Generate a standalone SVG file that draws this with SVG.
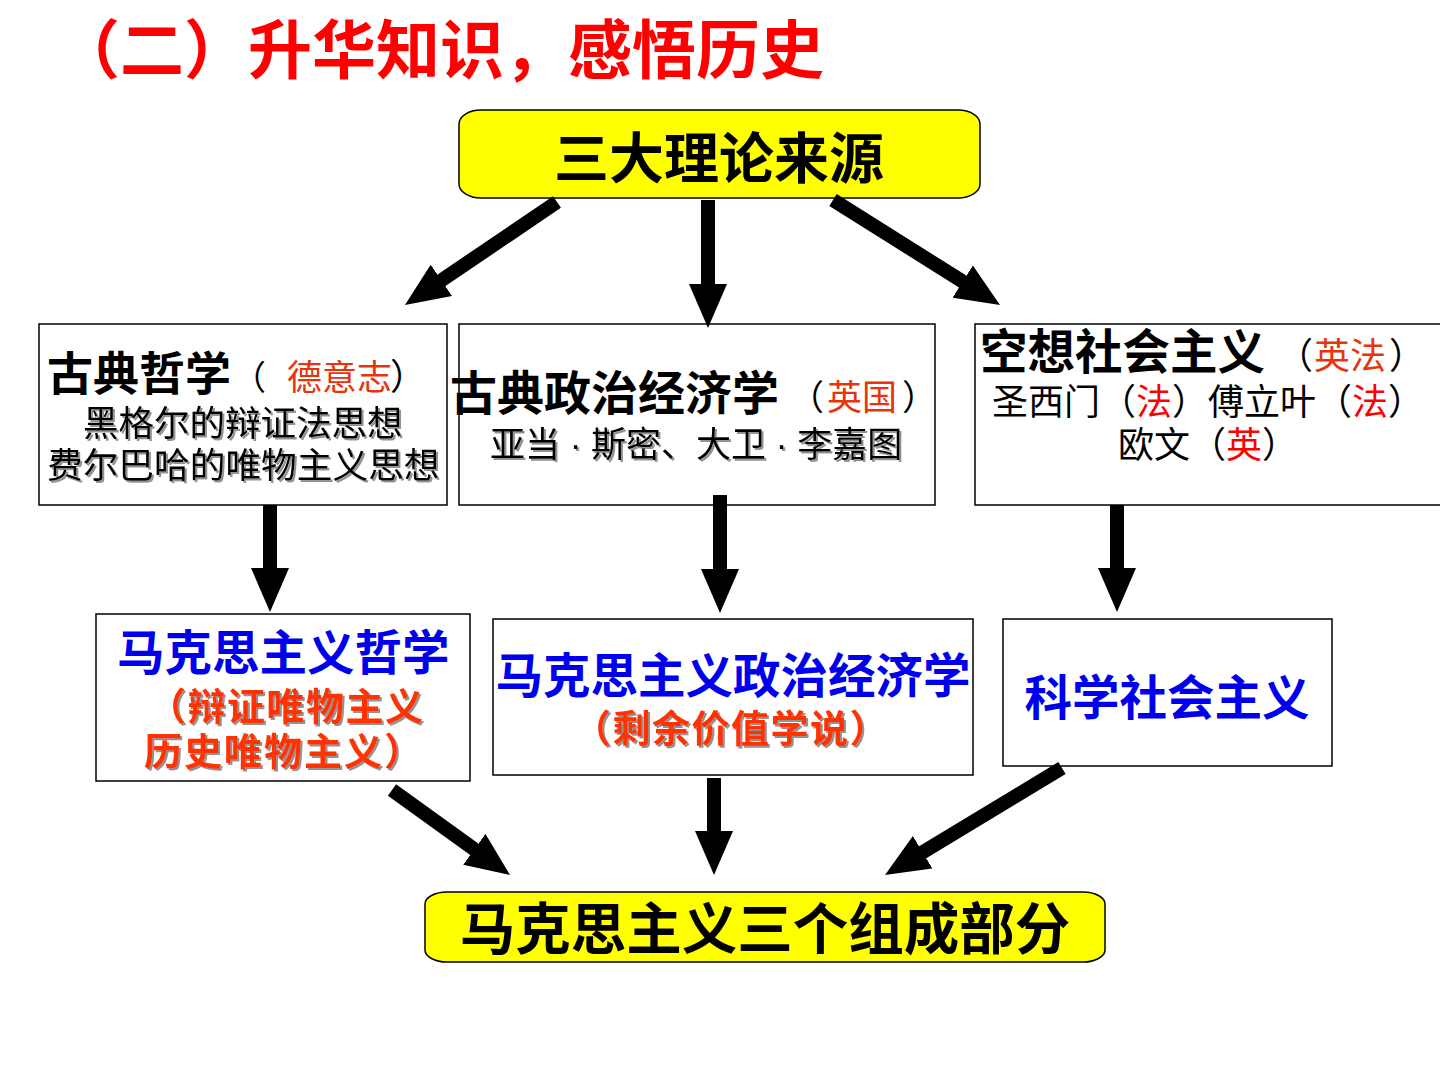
<svg xmlns="http://www.w3.org/2000/svg" width="1440" height="1080" viewBox="0 0 1440 1080">
<style>
text{font-family:"Liberation Sans","Noto Sans CJK SC",sans-serif;}
.b{font-weight:bold;}
.box{fill:#fff;stroke:#000;stroke-width:1.5;}
.yel{fill:#ffff00;stroke:#000;stroke-width:1.5;}
.conn line{stroke:#000;stroke-width:14;marker-end:url(#ah);}
.red{fill:#e8340c;}
.pr{fill:#ff0000;}
.blue{fill:#0000ee;}
.or{fill:#ff3300;}
</style>
<defs>
<marker id="ah" markerUnits="userSpaceOnUse" viewBox="0 0 44 38" refX="14" refY="19" markerWidth="44" markerHeight="38" orient="auto">
<path d="M0,0 L44,19 L0,38 Z" fill="#000"/>
</marker>
<filter id="sh" x="-5%" y="-20%" width="110%" height="140%">
<feDropShadow dx="2" dy="2" stdDeviation="0.6" flood-color="#777" flood-opacity="0.8"/>
</filter>
</defs>
<rect width="1440" height="1080" fill="#fff"/>
<text x="56" y="73" class="b" font-size="64" fill="#ff0000">（二）升华知识，感悟历史</text>

<g id="top">
<rect class="yel" x="459" y="110" width="521" height="88" rx="22" ry="14"/>
<text x="719" y="178" class="b" font-size="55" text-anchor="middle">三大理论来源</text>
</g>

<g id="n1">
<rect class="box" x="39" y="324" width="408" height="181"/>
<text y="390"><tspan x="47" class="b" font-size="46">古典哲学</tspan><tspan x="232" font-size="34">（</tspan><tspan x="287" class="red" font-size="35">德意志</tspan><tspan x="390" font-size="36">）</tspan></text>
<text x="83" y="436" font-size="35.5" filter="url(#sh)">黑格尔的辩证法思想</text>
<text x="47" y="478" font-size="35.7" filter="url(#sh)">费尔巴哈的唯物主义思想</text>
</g>

<g id="n2">
<rect class="box" x="459" y="324" width="476" height="181"/>
<text y="410"><tspan x="450" class="b" font-size="47">古典政治经济学</tspan><tspan x="789" font-size="35">（</tspan><tspan x="827" class="red" font-size="35">英国</tspan><tspan x="902" font-size="35">）</tspan></text>
<text x="490" y="457" font-size="35" filter="url(#sh)">亚当 · 斯密、大卫 · 李嘉图</text>
</g>

<g id="n3">
<rect class="box" x="975" y="324" width="470" height="181"/>
<text y="369"><tspan x="980" class="b" font-size="47.5">空想社会主义</tspan><tspan x="1277" font-size="36">（</tspan><tspan x="1314" class="red" font-size="36">英法</tspan><tspan x="1389" font-size="36">）</tspan></text>
<text x="992" y="415" font-size="36">圣西门（<tspan class="pr">法</tspan>）傅立叶（<tspan class="pr">法</tspan>）</text>
<text x="1118" y="458" font-size="36">欧文（<tspan class="pr">英</tspan>）</text>
</g>

<g id="n4">
<rect class="box" x="96" y="614" width="374" height="167"/>
<text x="117" y="670" class="b blue" font-size="47.5">马克思主义哲学</text>
<text x="148" y="720" class="b or" font-size="38" letter-spacing="1.5" filter="url(#sh)">（辩证唯物主义</text>
<text x="144" y="765" class="b or" font-size="38" letter-spacing="2" filter="url(#sh)">历史唯物主义）</text>
</g>

<g id="n5">
<rect class="box" x="493" y="619" width="480" height="156"/>
<text x="733" y="693" class="b blue" font-size="47.5" text-anchor="middle">马克思主义政治经济学</text>
<text x="731" y="742" class="b or" font-size="38" letter-spacing="1.5" text-anchor="middle" filter="url(#sh)">（剩余价值学说）</text>
</g>

<g id="n6">
<rect class="box" x="1003" y="619" width="329" height="147"/>
<text x="1167" y="715" class="b blue" font-size="47.5" text-anchor="middle">科学社会主义</text>
</g>

<g id="bottom">
<rect class="yel" x="425" y="892" width="680" height="70" rx="22" ry="12"/>
<text x="765" y="949" class="b" font-size="55.5" text-anchor="middle">马克思主义三个组成部分</text>
</g>

<g id="connectors" class="conn">
<line x1="557" y1="202" x2="429.8" y2="288.2"/>
<line x1="708" y1="200" x2="708" y2="298"/>
<line x1="833" y1="200" x2="974.6" y2="289"/>
<line x1="270" y1="505" x2="270" y2="582"/>
<line x1="720" y1="495" x2="720" y2="583"/>
<line x1="1117" y1="505" x2="1117" y2="582"/>
<line x1="392" y1="790" x2="485.7" y2="857.5"/>
<line x1="714" y1="778" x2="714" y2="845"/>
<line x1="1062" y1="768" x2="910.7" y2="859.5"/>
</g>
</svg>
